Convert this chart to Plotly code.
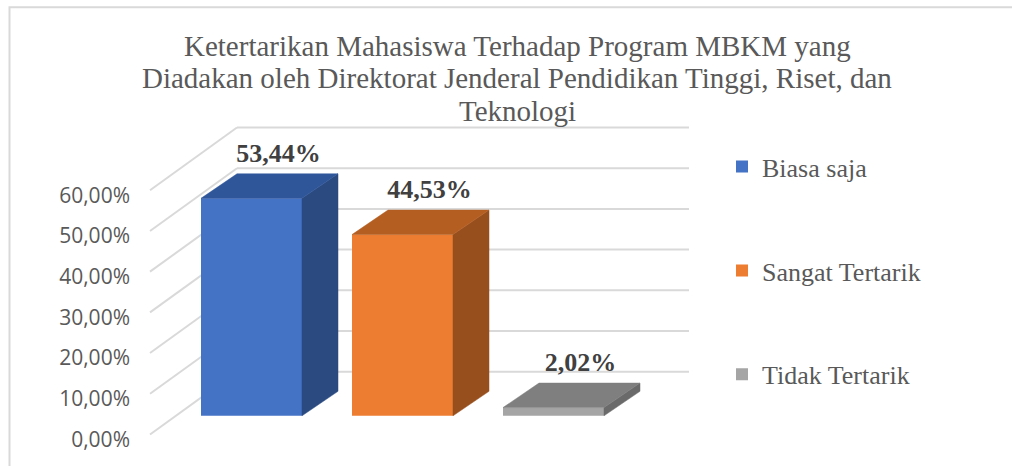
import plotly.graph_objects as go

# ---------------- data ----------------
categories = ["Biasa saja", "Sangat Tertarik", "Tidak Tertarik"]
values = [53.44, 44.53, 2.02]
value_labels = ["53,44%", "44,53%", "2,02%"]
tick_values = [0, 10, 20, 30, 40, 50, 60]
tick_labels = ["0,00%", "10,00%", "20,00%", "30,00%", "40,00%", "50,00%", "60,00%"]
front_colors = ["#4472C4", "#ED7D31", "#A5A5A5"]
top_colors = ["#30569A", "#B45E22", "#7F7F7F"]
side_colors = ["#2A4A80", "#974F1E", "#6A6A6A"]
title_lines = [
    "Ketertarikan Mahasiswa Terhadap Program MBKM yang",
    "Diadakan oleh Direktorat Jenderal Pendidikan Tinggi, Riset, dan",
    "Teknologi",
]

# ---------------- layout geometry (pixels) ----------------
W, H = 1012, 466
PX_PER_UNIT = 4.15          # pixels per percentage point
BASE_PX = 424               # pixel row of 0 % on the bar plane
Y_TOP_PX, Y_BOT_PX = 118, 452
X_LEFT_PX, X_RIGHT_PX = 140, 720
FRONT_ZERO_PX = 443         # 0 % on the front edge of the side wall
LABEL_ZERO_PX = 448         # 0 % tick label row
BACK_ZERO_PX = 379          # 0 % on the back wall
WALL_FRONT_X, WALL_BACK_X, WALL_RIGHT_X = 150, 237, 689
FIRST_CENTER, SPACING, BAR_W = 251.5, 151, 101
DEPTH_DX, DEPTH_DY_PX = 36, 25
TITLE_LINE_PX = [47, 80, 113]


def px_to_val(px):
    return (BASE_PX - px) / PX_PER_UNIT


front_off = px_to_val(FRONT_ZERO_PX)
label_off = px_to_val(LABEL_ZERO_PX)
back_off = px_to_val(BACK_ZERO_PX)
depth_dy = DEPTH_DY_PX / PX_PER_UNIT
y_range = [px_to_val(Y_BOT_PX), px_to_val(Y_TOP_PX)]

fig = go.Figure()
centers = [FIRST_CENTER + i * SPACING for i in range(len(categories))]

# front faces of the bars
for i, (cat, v) in enumerate(zip(categories, values)):
    fig.add_trace(go.Bar(
        x=[centers[i]], y=[v], width=[BAR_W], name=cat, legendgroup=cat,
        marker=dict(color=front_colors[i], line=dict(width=0)),
        hoverinfo="skip",
    ))

# side and top faces (3-D look)
for i, v in enumerate(values):
    x0 = centers[i] - BAR_W / 2
    x1 = centers[i] + BAR_W / 2
    top_x = [x0, x1, x1 + DEPTH_DX, x0 + DEPTH_DX, x0]
    top_y = [v, v, v + depth_dy, v + depth_dy, v]
    side_x = [x1, x1, x1 + DEPTH_DX, x1 + DEPTH_DX, x1]
    side_y = [0, v, v + depth_dy, depth_dy, 0]
    fig.add_trace(go.Scatter(x=side_x, y=side_y, fill="toself", mode="lines",
                             fillcolor=side_colors[i],
                             line=dict(color=side_colors[i], width=0.5),
                             showlegend=False, hoverinfo="skip"))
    fig.add_trace(go.Scatter(x=top_x, y=top_y, fill="toself", mode="lines",
                             fillcolor=top_colors[i],
                             line=dict(color=top_colors[i], width=0.5),
                             showlegend=False, hoverinfo="skip"))

# data labels
fig.add_trace(go.Scatter(
    x=[c + 27 for c in centers],
    y=[v + depth_dy + 19 / PX_PER_UNIT for v in values],
    mode="text", text=value_labels, textposition="middle center",
    textfont=dict(family="Liberation Serif", size=26, color="#404040", weight="bold"),
    showlegend=False, hoverinfo="skip", cliponaxis=False,
))

# back-wall gridlines and side-wall diagonals
shapes = []
for t in tick_values:
    shapes.append(dict(type="line", xref="x", yref="y", layer="below",
                       x0=WALL_BACK_X, x1=WALL_RIGHT_X, y0=t + back_off, y1=t + back_off,
                       line=dict(color="#D9D9D9", width=2)))
    shapes.append(dict(type="line", xref="x", yref="y", layer="below",
                       x0=WALL_FRONT_X, x1=WALL_BACK_X, y0=t + front_off, y1=t + back_off,
                       line=dict(color="#D9D9D9", width=2)))
# chart border
shapes.append(dict(type="rect", xref="paper", yref="paper",
                   x0=9.5 / W, x1=1.05, y0=-0.05, y1=1 - 7.5 / H,
                   line=dict(color="#D9D9D9", width=2)))

# title, one annotation per line
annotations = []
for line, py in zip(title_lines, TITLE_LINE_PX):
    annotations.append(dict(text=line, xref="paper", yref="paper",
                            x=517 / W, y=1 - py / H, xanchor="center", yanchor="middle",
                            showarrow=False,
                            font=dict(family="Liberation Serif", size=29, color="#595959")))

fig.update_layout(
    width=W, height=H, autosize=False,
    margin=dict(l=0, r=0, t=0, b=0),
    paper_bgcolor="white", plot_bgcolor="rgba(0,0,0,0)",
    barmode="overlay",
    shapes=shapes,
    annotations=annotations,
    xaxis=dict(range=[X_LEFT_PX, X_RIGHT_PX], domain=[X_LEFT_PX / W, X_RIGHT_PX / W],
               visible=False, fixedrange=True),
    yaxis=dict(range=y_range, domain=[1 - Y_BOT_PX / H, 1 - Y_TOP_PX / H],
               visible=False, fixedrange=True),
    yaxis2=dict(overlaying="y", anchor="free", position=X_LEFT_PX / W, side="left",
                range=[y_range[0] - label_off, y_range[1] - label_off],
                tickvals=tick_values, ticktext=tick_labels,
                showgrid=False, zeroline=False, showline=False, ticks="",
                ticklabelstandoff=10, fixedrange=True,
                tickfont=dict(family="Open Sans", size=21, color="#595959")),
    legend=dict(x=722 / W, y=1 - 146 / H, xanchor="left", yanchor="top",
                traceorder="grouped", tracegroupgap=67,
                font=dict(family="Liberation Serif", size=26, color="#595959"),
                bgcolor="rgba(0,0,0,0)"),
    showlegend=True,
)

# invisible trace that activates the tick-label axis
fig.add_trace(go.Scatter(x=[None], y=[None], yaxis="y2", showlegend=False, hoverinfo="skip"))

fig.write_html(
    "out.html",
    config={"displayModeBar": False},
    post_script="document.body.style.margin='0px';"
                "document.documentElement.style.overflow='hidden';"
                "document.body.style.overflow='hidden';",
)
